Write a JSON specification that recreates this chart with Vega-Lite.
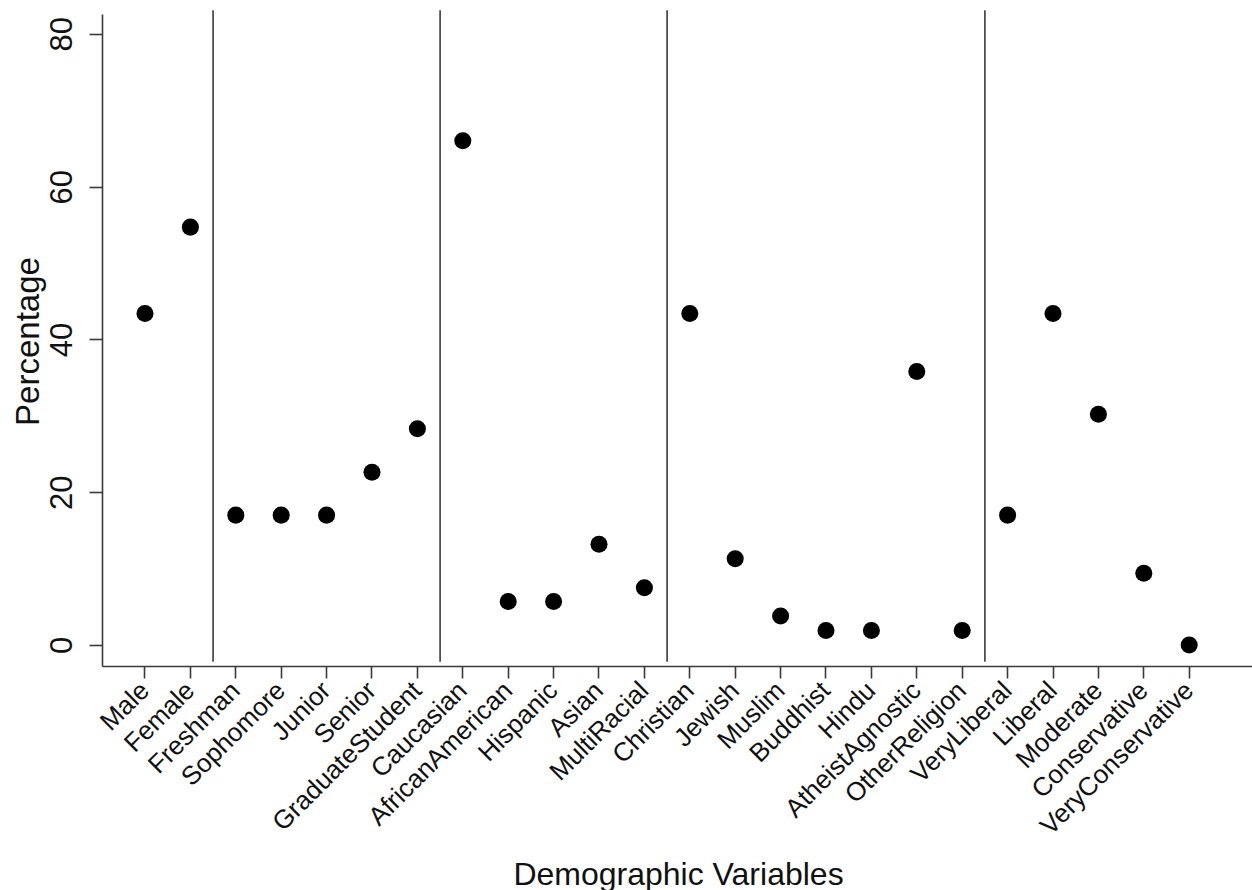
{
  "$schema": "https://vega.github.io/schema/vega-lite/v6.json",
  "autosize": "none",
  "padding": {"left": 102, "top": 14, "right": 0, "bottom": 224},
  "width": 1150,
  "height": 652,
  "background": "white",
  "config": {
    "view": {"stroke": null},
    "font": "Liberation Sans",
    "axis": {"grid": false, "domainColor": "#3a3a3a", "tickColor": "#3a3a3a", "domainWidth": 1.6, "tickWidth": 1.6, "labelColor": "#111", "titleColor": "#111", "titleFontWeight": "normal"}
  },
  "datasets": {
    "points": [
      {"category": "Male", "pct": 43.4},
      {"category": "Female", "pct": 54.7},
      {"category": "Freshman", "pct": 17.0},
      {"category": "Sophomore", "pct": 17.0},
      {"category": "Junior", "pct": 17.0},
      {"category": "Senior", "pct": 22.6},
      {"category": "GraduateStudent", "pct": 28.3},
      {"category": "Caucasian", "pct": 66.0},
      {"category": "AfricanAmerican", "pct": 5.7},
      {"category": "Hispanic", "pct": 5.7},
      {"category": "Asian", "pct": 13.2},
      {"category": "MultiRacial", "pct": 7.5},
      {"category": "Christian", "pct": 43.4},
      {"category": "Jewish", "pct": 11.3},
      {"category": "Muslim", "pct": 3.8},
      {"category": "Buddhist", "pct": 1.9},
      {"category": "Hindu", "pct": 1.9},
      {"category": "AtheistAgnostic", "pct": 35.8},
      {"category": "OtherReligion", "pct": 1.9},
      {"category": "VeryLiberal", "pct": 17.0},
      {"category": "Liberal", "pct": 43.4},
      {"category": "Moderate", "pct": 30.2},
      {"category": "Conservative", "pct": 9.4},
      {"category": "VeryConservative", "pct": 0}
    ],
    "dividers": [
      {"category": "Freshman"},
      {"category": "Caucasian"},
      {"category": "Christian"},
      {"category": "VeryLiberal"}
    ]
  },
  "layer": [
    {
      "data": {"name": "points"},
      "mark": {"type": "circle", "color": "#000", "opacity": 1, "size": 290},
      "encoding": {
        "x": {
          "field": "category",
          "type": "nominal",
          "scale": {
            "type": "band",
            "paddingInner": 0,
            "paddingOuter": 0.665,
            "align": 0.336,
            "domain": ["Male", "Female", "Freshman", "Sophomore", "Junior", "Senior", "GraduateStudent", "Caucasian", "AfricanAmerican", "Hispanic", "Asian", "MultiRacial", "Christian", "Jewish", "Muslim", "Buddhist", "Hindu", "AtheistAgnostic", "OtherReligion", "VeryLiberal", "Liberal", "Moderate", "Conservative", "VeryConservative"]
          },
          "axis": {
            "title": "Demographic Variables",
            "titleFontSize": 32,
            "titleX": 576,
            "titleY": 218,
            "titleAlign": "center",
            "titleBaseline": "alphabetic",
            "labelFontSize": 26,
            "labelAngle": -45,
            "labelAlign": "right",
            "labelBaseline": "middle",
            "labelPadding": 8,
            "tickSize": 12,
            "labelOverlap": false,
            "labelLimit": 400
          }
        },
        "y": {
          "field": "pct",
          "type": "quantitative",
          "scale": {"domain": [-2.75, 82.6], "nice": false, "zero": false},
          "axis": {
            "title": "Percentage",
            "titleFontSize": 33,
            "titleAngle": -90,
            "titleX": -64,
            "titleY": 327,
            "titleAlign": "center",
            "titleBaseline": "alphabetic",
            "values": [0, 20, 40, 60, 80],
            "labelFontSize": 31,
            "labelAngle": -90,
            "labelAlign": "center",
            "labelBaseline": "bottom",
            "labelPadding": 11,
            "tickSize": 13
          }
        }
      }
    },
    {
      "data": {"name": "dividers"},
      "mark": {"type": "rule", "color": "#3a3a3a", "strokeWidth": 1.6, "clip": false},
      "encoding": {
        "x": {"field": "category", "type": "nominal", "bandPosition": 0},
        "y": {"datum": -2.2, "type": "quantitative"},
        "y2": {"datum": 83.1}
      }
    }
  ]
}
